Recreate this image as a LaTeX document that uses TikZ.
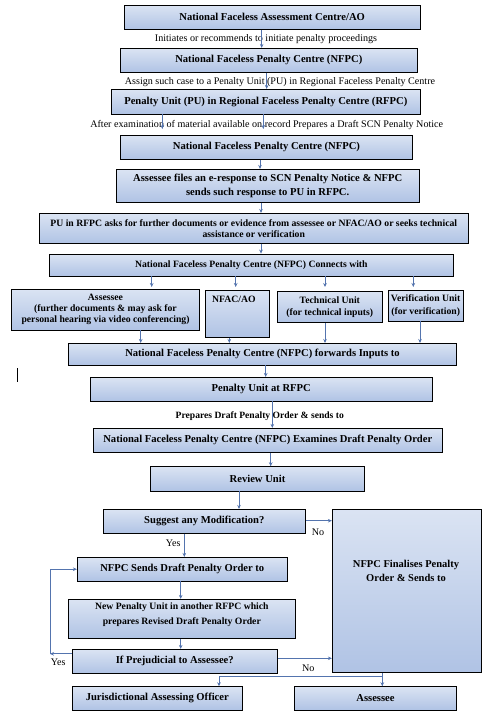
\documentclass[tikz,border=0pt]{standalone}
\usepackage{fontspec}
\setmainfont{Liberation Serif}
\usetikzlibrary{arrows.meta,calc}
\definecolor{shtop}{HTML}{F0F4FA}
\definecolor{shmid}{HTML}{A8BDE2}
\definecolor{shbot}{HTML}{BCCBE9}
\definecolor{conn}{HTML}{5474AE}
\pgfdeclareverticalshading{boxshade}{100bp}{color(0bp)=(shbot); color(16bp)=(shmid); color(100bp)=(shtop)}
\tikzset{
  box/.style={draw=black, line width=0.8pt, shading=boxshade, inner sep=1pt, align=center, font=\bfseries\fontsize{10.6}{13.3}\selectfont},
  sbox/.style={box, font=\bfseries\fontsize{9.7}{10.8}\selectfont},
  btxt/.style={inner sep=0pt, align=center, font=\bfseries\fontsize{10.5}{13.3}\selectfont},
  sbtxt/.style={inner sep=0pt, align=center, font=\bfseries\fontsize{9.7}{14.4}\selectfont},
  arr/.style={draw=conn, line width=0.8pt, -{Stealth[length=4pt,width=3.6pt]}},
  lbl/.style={inner sep=0pt, font=\fontsize{10.1}{11}\selectfont},
  blbl/.style={inner sep=0pt, font=\bfseries\fontsize{9.6}{11}\selectfont},
}
\begin{document}
\begin{tikzpicture}[x=1pt,y=-1pt]
\useasboundingbox (0,0) rectangle (492,716);
% boxes
\node[box, minimum width=295.7pt, minimum height=24.3pt] (n1) at (272.2,17.2) {National Faceless Assessment Centre/AO};
\node[box, minimum width=296.3pt, minimum height=24pt] (n2) at (268.8,60.3) {National Faceless Penalty Centre (NFPC)};
\node[box, minimum width=308.3pt, minimum height=24.7pt] (n3) at (265.8,101.7) {Penalty Unit (PU) in Regional Faceless Penalty Centre (RFPC)};
\node[box, minimum width=291.6pt, minimum height=24.3pt] (n4) at (266.5,147.2) {National Faceless Penalty Centre (NFPC)};
\node[box, minimum width=302.7pt, minimum height=33pt] (n5) at (267.7,185.8) {Assessee files an e-response to SCN Penalty Notice \& NFPC\\sends such response to PU in RFPC.};
\node[sbox, minimum width=429pt, minimum height=30pt] (n6) at (253.8,228.3) {PU in RFPC asks for further documents or evidence from assessee or NFAC/AO or seeks technical\\assistance or verification};
\node[sbox, minimum width=404pt, minimum height=22pt] (n7) at (251.3,265) {National Faceless Penalty Centre (NFPC) Connects with};
\node[sbox, minimum width=187.6pt, minimum height=41pt] (na) at (105.5,309.5) {Assessee\\(further documents \& may ask for\\personal hearing via video conferencing)};
\node[sbox, minimum width=64.3pt, minimum height=46.7pt, anchor=north west] (nb) at (205,290) {};
\node[sbtxt, anchor=north west] (nbt) at (212,295.5) {NFAC/AO};
\node[sbox, font=\bfseries\fontsize{9.7}{12.6}\selectfont, minimum width=105pt, minimum height=31pt] (nc) at (329.8,307.2) {Technical Unit\\(for technical inputs)};
\node[sbox, font=\bfseries\fontsize{9.7}{12.6}\selectfont, minimum width=74.7pt, minimum height=30.3pt] (nd) at (425.7,305.8) {Verification Unit\\(for verification)};
\node[box, minimum width=388.4pt, minimum height=21.7pt] (n8) at (262.5,354.2) {National Faceless Penalty Centre (NFPC) forwards Inputs to};
\node[box, minimum width=342.3pt, minimum height=23.7pt] (n9) at (261.2,389.2) {Penalty Unit at RFPC};
\node[box, minimum width=349pt, minimum height=24pt] (n10) at (267.8,440.3) {National Faceless Penalty Centre (NFPC) Examines Draft Penalty Order};
\node[box, minimum width=213.6pt, minimum height=24.3pt] (n11) at (257.5,478.8) {Review Unit};
\node[box, minimum width=202pt, minimum height=24pt] (n12) at (204.3,521.3) {Suggest any Modification?};
\node[box, minimum width=149.4pt, minimum height=163.4pt] (fin) at (407,591) {};
\node[btxt] (fint) at (406,571) {NFPC Finalises Penalty\\Order \& Sends to};
\node[box, minimum width=210pt, minimum height=23.7pt] (n13) at (182.3,569.2) {NFPC Sends Draft Penalty Order to};
\node[sbox, minimum width=227pt, minimum height=39pt] (n14) at (181.8,618.8) {};
\node[sbtxt] (n14t) at (181.8,614.5) {New Penalty Unit in another RFPC which\\prepares Revised Draft Penalty Order};
\node[box, minimum width=205pt, minimum height=24pt] (n15) at (174.8,661.3) {If Prejudicial to Assessee?};
\node[box, minimum width=170pt, minimum height=23.3pt] (jao) at (157.3,698.3) {Jurisdictional Assessing Officer};
\node[box, minimum width=162.4pt, minimum height=23.3pt] (ass) at (375.5,698.3) {Assessee};
% labels
\node[lbl] (l1) at (266,39.3) {Initiates or recommends to initiate penalty proceedings};
\node[lbl] (l2) at (280,81.7) {Assign such case to a Penalty Unit (PU) in Regional Faceless Penalty Centre};
\node[lbl] (l3) at (266.7,125.3) {After examination of material available on record Prepares a Draft SCN Penalty Notice};
\node[blbl] (l4) at (259.8,415.7) {Prepares Draft Penalty Order \& sends to};
\node[lbl] (yes1) at (173.3,543.3) {Yes};
\node[lbl] (no1) at (318,532.3) {No};
\node[lbl] (yes2) at (58.3,662.3) {Yes};
\node[lbl] (no2) at (308.3,668.3) {No};
% connectors
\draw[arr] (n1.south -| 261.7,0) -- (n2.north -| 261.7,0);
\draw[arr] (n2.south -| 266.7,0) -- (n3.north -| 266.7,0);
\coordinate (e3) at (0,129);
\draw[arr] (n3.south -| 162.3,0) -- (e3 -| 162.3,0);
\draw[arr] (n3.south -| 263.3,0) -- (e3 -| 263.3,0);
\draw[arr] (n4.south -| 260,0) -- (n5.north -| 260,0);
\draw[arr] (n5.south -| 261,0) -- (n6.north -| 261,0);
\draw[arr] (n6.south -| 261,0) -- (n7.north -| 261,0);
\coordinate (e7) at (0,287);
\draw[arr] (n7.south -| 151.7,0) -- (e7 -| 151.7,0);
\draw[arr] (n7.south -| 235.7,0) -- (e7 -| 235.7,0);
\draw[arr] (n7.south -| 325,0) -- (e7 -| 325,0);
\draw[arr] (n7.south -| 413.3,0) -- (e7 -| 413.3,0);
\draw[arr] (na.south -| 140.7,0) -- (n8.north -| 140.7,0);
\draw[arr] (nb.south -| 229.3,0) -- (n8.north -| 229.3,0);
\draw[arr] (nc.south -| 325,0) -- (n8.north -| 325,0);
\draw[arr] (nd.south -| 420,0) -- (n8.north -| 420,0);
\draw[arr] (n8.south -| 265.7,0) -- (n9.north -| 265.7,0);
\draw[arr] (n9.south -| 272.3,0) -- (n10.north -| 272.3,0);
\draw[arr] (n10.south -| 270.7,0) -- (n11.north -| 270.7,0);
\draw[arr] (n11.south -| 239,0) -- (n12.north -| 239,0);
\draw[arr] (n12.east |- 0,520.7) -- (fin.west |- 0,520.7);
\draw[arr] (n12.south -| 184.3,0) -- (n13.north -| 184.3,0);
\draw[arr] (n13.south -| 180.7,0) -- (n14.north -| 180.7,0);
\draw[arr] (n14.south -| 180.7,0) -- (n15.north -| 180.7,0);
\draw[arr] (n15.east |- 0,658.3) -- (fin.west |- 0,658.3);
\coordinate (lp) at (50,653.8);
\draw[arr] (n15.west |- lp) -- (lp);
\draw[arr] (lp) |- (n13.west);
\coordinate (sp) at (382.3,676);
\draw[arr] (fin.south -| sp) -- (ass.north -| sp);
\draw[arr] (sp) -| (jao.north -| 219,0);
% stray cursor mark
\draw[line width=0.9pt] (17.3,368) -- (17.3,381.5);
\end{tikzpicture}
\end{document}
